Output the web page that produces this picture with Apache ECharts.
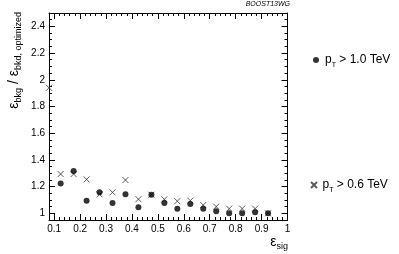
<!DOCTYPE html>
<html>
<head>
<meta charset="utf-8">
<script src="https://cdn.jsdelivr.net/npm/echarts@6/dist/echarts.min.js"></script>
<style>
  html, body { margin: 0; padding: 0; background: #fff; }
  #main { width: 399px; height: 254px; }
</style>
</head>
<body>
<div id="main"></div>
<script>
// data
var xSig = [0.125, 0.175, 0.225, 0.275, 0.325, 0.375, 0.425, 0.475, 0.525,
            0.575, 0.625, 0.675, 0.725, 0.775, 0.825, 0.875, 0.925];
var ratioPt10 = [1.224, 1.317, 1.094, 1.158, 1.078, 1.143, 1.046, 1.139, 1.078,
                 1.034, 1.070, 1.034, 1.015, 1.000, 1.000, 1.008, 1.000];
var xSigPt06 = [0.08].concat(xSig);
var ratioPt06 = [1.94, 1.294, 1.294, 1.254, 1.142, 1.157, 1.249, 1.106, 1.139, 1.105,
                 1.091, 1.095, 1.062, 1.050, 1.035, 1.035, 1.035, 1.000];
var xTickLabels = [0.1, 0.2, 0.3, 0.4, 0.5, 0.6, 0.7, 0.8, 0.9, 1];
var yTickLabels = [1, 1.2, 1.4, 1.6, 1.8, 2, 2.2, 2.4];

var FONT = '"Liberation Sans", Arial, Helvetica, sans-serif';
var X_MIN = 0.08, X_MAX = 1.0, Y_MIN = 0.95, Y_MAX = 2.5;

// minor tick positions (ROOT style: 5 per x division, 4 per y division)
var xMinor = [];
for (var i = 0; i <= 45; i++) {
  var v = +(0.1 + i * 0.02).toFixed(3);
  if (v <= X_MAX) xMinor.push(v);
}
var yMinor = [];
for (var j = 0; j <= 31; j++) {
  var w = +(0.95 + j * 0.05).toFixed(3);
  if (w <= Y_MAX) yMinor.push(w);
}

function pairs(xs, ys) {
  return xs.map(function (x, k) { return [x, ys[k]]; });
}

function xAxisDef(pos, ticks, len, labels, line) {
  return {
    type: 'value', position: pos, min: X_MIN, max: X_MAX,
    axisLine: { show: line, onZero: false, lineStyle: { color: '#000', width: 1 } },
    axisTick: { show: true, inside: true, length: len, customValues: ticks,
                lineStyle: { color: '#000', width: 1 } },
    axisLabel: labels ? { show: true, customValues: ticks, margin: 4,
                          color: '#000', fontSize: 10, fontFamily: FONT } : { show: false },
    splitLine: { show: false }
  };
}
function yAxisDef(pos, ticks, len, labels, line) {
  return {
    type: 'value', position: pos, min: Y_MIN, max: Y_MAX,
    axisLine: { show: line, onZero: false, lineStyle: { color: '#000', width: 1 } },
    axisTick: { show: true, inside: true, length: len, customValues: ticks,
                lineStyle: { color: '#000', width: 1 } },
    axisLabel: labels ? { show: true, customValues: ticks, margin: 4,
                          color: '#000', fontSize: 10, fontFamily: FONT } : { show: false },
    splitLine: { show: false }
  };
}

var sub = { fontSize: 9, lineHeight: 8, verticalAlign: 'bottom', fontFamily: FONT, color: '#000' };
var big = { fontSize: 14, lineHeight: 18, fontFamily: FONT, color: '#000' };
var legendRich = {
  m: { fontSize: 12, lineHeight: 18, fontFamily: FONT, color: '#000' },
  s: { fontSize: 7, lineHeight: 7, verticalAlign: 'bottom', fontFamily: FONT, color: '#000' }
};

var chart = echarts.init(document.getElementById('main'), null, { renderer: 'canvas' });
chart.setOption({
  animation: false,
  backgroundColor: '#fff',
  grid: { left: 49, top: 13, right: 111.5, bottom: 34, containLabel: false },
  xAxis: [
    xAxisDef('bottom', xTickLabels, 6, true, true),
    xAxisDef('bottom', xMinor, 3, false, false),
    xAxisDef('top', xTickLabels, 6, false, true),
    xAxisDef('top', xMinor, 3, false, false)
  ],
  yAxis: [
    yAxisDef('left', yTickLabels, 6, true, true),
    yAxisDef('left', yMinor, 3, false, false),
    yAxisDef('right', yTickLabels, 6, false, true),
    yAxisDef('right', yMinor, 3, false, false)
  ],
  legend: [
    {
      data: ['pt10'], left: 313, top: 54, padding: 0,
      itemWidth: 8, itemHeight: 6, icon: 'circle',
      formatter: function () { return '{m|p}{s|T}{m| > 1.0 TeV}'; },
      textStyle: { rich: legendRich }
    },
    {
      data: ['pt06'], left: 310, top: 179, padding: 0,
      itemWidth: 7, itemHeight: 6,
      formatter: function () { return '{m|p}{s|T}{m| > 0.6 TeV}'; },
      textStyle: { rich: legendRich }
    }
  ],
  series: [
    {
      name: 'pt06', type: 'scatter', clip: false,
      symbol: 'path://M0,0L10,10M0,10L10,0', symbolSize: 6,
      itemStyle: { color: 'transparent', borderColor: '#333', borderWidth: 1 },
      data: pairs(xSigPt06, ratioPt06), z: 3
    },
    {
      name: 'pt10', type: 'scatter', clip: false,
      symbol: 'circle', symbolSize: 6,
      itemStyle: { color: '#000' },
      data: pairs(xSig, ratioPt10), z: 4
    }
  ],
  graphic: [
    {
      type: 'text', right: 109, top: 1,
      style: { text: 'BOOST13WG', font: 'italic 7px ' + FONT, fill: '#000' }
    },
    {
      type: 'text', x: 14, y: 12, rotation: Math.PI / 2,
      style: {
        text: '{b|ε}{s|bkg}{b| / ε}{s|bkd, optimized}',
        align: 'right', verticalAlign: 'middle',
        rich: { b: big, s: sub }
      }
    },
    {
      type: 'text', x: 288, y: 242,
      style: {
        text: '{b|ε}{s|sig}',
        align: 'right', verticalAlign: 'middle',
        rich: { b: big, s: sub }
      }
    }
  ]
});
</script>
</body>
</html>
